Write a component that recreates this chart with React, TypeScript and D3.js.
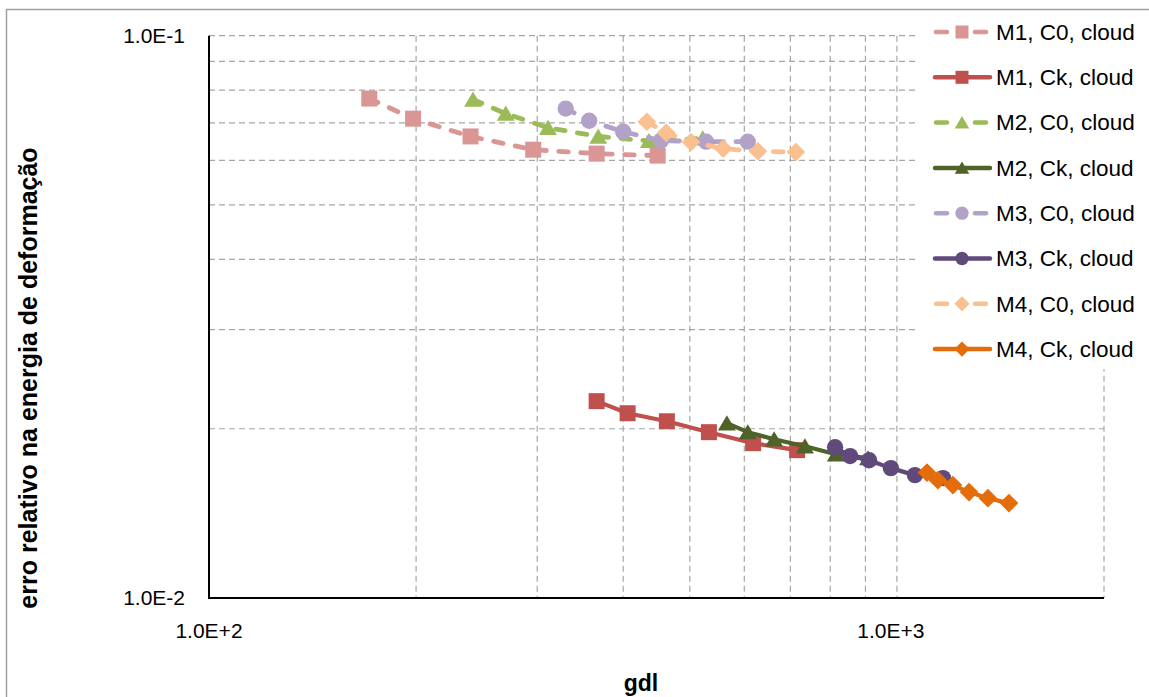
import React from "react";
import * as d3 from "d3";

const X_TICKS = [100, 1000];
const X_TICK_LABELS = ["1.0E+2", "1.0E+3"];
const Y_TICKS = [0.01, 0.1];
const Y_TICK_LABELS = ["1.0E-2", "1.0E-1"];
const X_GRID = [200, 300, 400, 500, 600, 700, 800, 900, 1000, 2000];
const Y_GRID = [0.02, 0.03, 0.04, 0.05, 0.06, 0.07, 0.08, 0.09, 0.1];

const M1_C0_X = [171, 198, 240, 296, 366, 449];
const M1_C0_Y = [0.0773, 0.0712, 0.0662, 0.0627, 0.0617, 0.0612];
const M1_CK_X = [366, 406, 463, 533, 618, 716];
const M1_CK_Y = [0.02239, 0.02131, 0.02062, 0.01972, 0.01885, 0.01832];
const M2_C0_X = [242, 270, 311, 368, 436, 522];
const M2_C0_Y = [0.077, 0.0727, 0.0686, 0.0662, 0.065, 0.0657];
const M2_CK_X = [566, 607, 663, 735, 815, 908];
const M2_CK_Y = [0.02046, 0.01972, 0.01916, 0.01862, 0.01802, 0.01773];
const M3_C0_X = [330, 357, 400, 454, 528, 607];
const M3_C0_Y = [0.0742, 0.0706, 0.0675, 0.0651, 0.0648, 0.0648];
const M3_CK_X = [813, 855, 911, 980, 1062, 1167];
const M3_CK_Y = [0.01854, 0.01788, 0.01758, 0.01702, 0.01654, 0.01634];
const M4_C0_X = [433, 462, 502, 559, 628, 713];
const M4_C0_Y = [0.0703, 0.0672, 0.0647, 0.063, 0.0623, 0.0621];
const M4_CK_X = [1106, 1147, 1206, 1273, 1356, 1455];
const M4_CK_Y = [0.01671, 0.0162, 0.01588, 0.01543, 0.01505, 0.01475];

const SERIES_NAMES = [
  "M1, C0, cloud",
  "M1, Ck, cloud",
  "M2, C0, cloud",
  "M2, Ck, cloud",
  "M3, C0, cloud",
  "M3, Ck, cloud",
  "M4, C0, cloud",
  "M4, Ck, cloud",
];
const SERIES_X = [M1_C0_X, M1_CK_X, M2_C0_X, M2_CK_X, M3_C0_X, M3_CK_X, M4_C0_X, M4_CK_X];
const SERIES_Y = [M1_C0_Y, M1_CK_Y, M2_C0_Y, M2_CK_Y, M3_C0_Y, M3_CK_Y, M4_C0_Y, M4_CK_Y];
const COLORS = ["#D99694", "#C0504D", "#9BBB59", "#4F6228", "#B3A2C7", "#604A7B", "#FAC090", "#E46C0A"];
const DASHED = [true, false, true, false, true, false, true, false];
const SHAPES = ["square", "square", "triangle", "triangle", "circle", "circle", "diamond", "diamond"];

const FONT = "'Liberation Sans', Arial, sans-serif";

function Marker({ shape, x, y, color, s }: { shape: string; x: number; y: number; color: string; s: number }) {
  const h = s / 2;
  if (shape === "square") return <rect x={x - h} y={y - h} width={s} height={s} fill={color} />;
  if (shape === "circle") return <circle cx={x} cy={y} r={h * 1.02} fill={color} />;
  if (shape === "triangle")
    return <path d={`M${x},${y - h}L${x + h * 1.12},${y + h * 0.9}L${x - h * 1.12},${y + h * 0.9}Z`} fill={color} />;
  const d = h * 1.17;
  return <path d={`M${x},${y - d}L${x + d},${y}L${x},${y + d}L${x - d},${y}Z`} fill={color} />;
}

export default function App() {
  const W = 1149;
  const H = 697;
  const left = 209;
  const right = 1104;
  const top = 35.7;
  const bottom = 598;
  const x = d3.scaleLog().domain([100, 2000]).range([left, right]);
  const y = d3.scaleLog().domain([0.01, 0.1]).range([bottom, top]);
  const line = d3.line<[number, number]>().x((d) => x(d[0])).y((d) => y(d[1]));

  const legendY0 = 32;
  const legendStep = 45.3;

  return (
    <svg
      width={W}
      height={H}
      style={{ position: "absolute", left: 0, top: 0, background: "#fff" }}
      fontFamily={FONT}
    >
      <rect x={0} y={0} width={W} height={H} fill="#fff" />
      <rect x={6.5} y={9.5} width={1200} height={800} fill="none" stroke="#A0A0A0" strokeWidth={1.5} />

      {/* gridlines */}
      {X_GRID.map((v) => (
        <line key={"gx" + v} x1={x(v)} x2={x(v)} y1={top} y2={bottom} stroke="#A6A6A6" strokeWidth={1.2} strokeDasharray="6 4" />
      ))}
      {Y_GRID.map((v) => (
        <line key={"gy" + v} x1={left} x2={right} y1={y(v)} y2={y(v)} stroke="#A6A6A6" strokeWidth={1.2} strokeDasharray="6 4" />
      ))}

      {/* axes */}
      <line x1={left} x2={left} y1={top} y2={bottom + 1} stroke="#000" strokeWidth={2} />
      <line x1={left - 1} x2={right} y1={bottom} y2={bottom} stroke="#000" strokeWidth={2} />

      {Y_TICKS.map((v, i) => (
        <text key={"yt" + v} x={185} y={y(v)} dy="0.35em" textAnchor="end" fontSize={21} fill="#000">
          {Y_TICK_LABELS[i]}
        </text>
      ))}
      {X_TICKS.map((v, i) => (
        <text key={"xt" + v} x={x(v) - (i === 1 ? 6 : 0)} y={631} dy="0.35em" textAnchor="middle" fontSize={21} fill="#000">
          {X_TICK_LABELS[i]}
        </text>
      ))}

      <text
        transform={`translate(28,378) rotate(-90)`}
        textAnchor="middle"
        dy="0.35em"
        fontSize={25}
        fontWeight="bold"
        fill="#000"
      >
        erro relativo na energia de deformação
      </text>
      <text x={641} y={683} dy="0.35em" textAnchor="middle" fontSize={23} fontWeight="bold" fill="#000">
        gdl
      </text>

      {/* series */}
      {SERIES_NAMES.map((name, i) => {
        const pts: [number, number][] = SERIES_X[i].map((v, j) => [v, SERIES_Y[i][j]]);
        return (
          <g key={name}>
            <path
              d={line(pts) || ""}
              fill="none"
              stroke={COLORS[i]}
              strokeWidth={DASHED[i] ? 4.8 : 4.2}
              strokeDasharray={DASHED[i] ? "9.5 12.5" : undefined}
              strokeLinecap={DASHED[i] ? "round" : "butt"}
              strokeLinejoin="round"
            />
            {pts.map((p, j) => (
              <Marker key={j} shape={SHAPES[i]} x={x(p[0])} y={y(p[1])} color={COLORS[i]} s={16} />
            ))}
          </g>
        );
      })}

      {/* legend */}
      <rect x={918} y={11} width={231} height={358} fill="#fff" />
      {SERIES_NAMES.map((name, i) => {
        const ly = legendY0 + i * legendStep;
        return (
          <g key={"lg" + name}>
            {DASHED[i] ? (
              <>
                <line x1={936} x2={947} y1={ly} y2={ly} stroke={COLORS[i]} strokeWidth={4.5} strokeLinecap="round" />
                <line x1={975} x2={986} y1={ly} y2={ly} stroke={COLORS[i]} strokeWidth={4.5} strokeLinecap="round" />
              </>
            ) : (
              <line x1={935} x2={990} y1={ly} y2={ly} stroke={COLORS[i]} strokeWidth={4.5} strokeLinecap="round" />
            )}
            <Marker shape={SHAPES[i]} x={962} y={ly} color={COLORS[i]} s={13} />
            <text x={996} y={ly} dy="0.35em" fontSize={22.5} fill="#000">
              {name}
            </text>
          </g>
        );
      })}
    </svg>
  );
}
